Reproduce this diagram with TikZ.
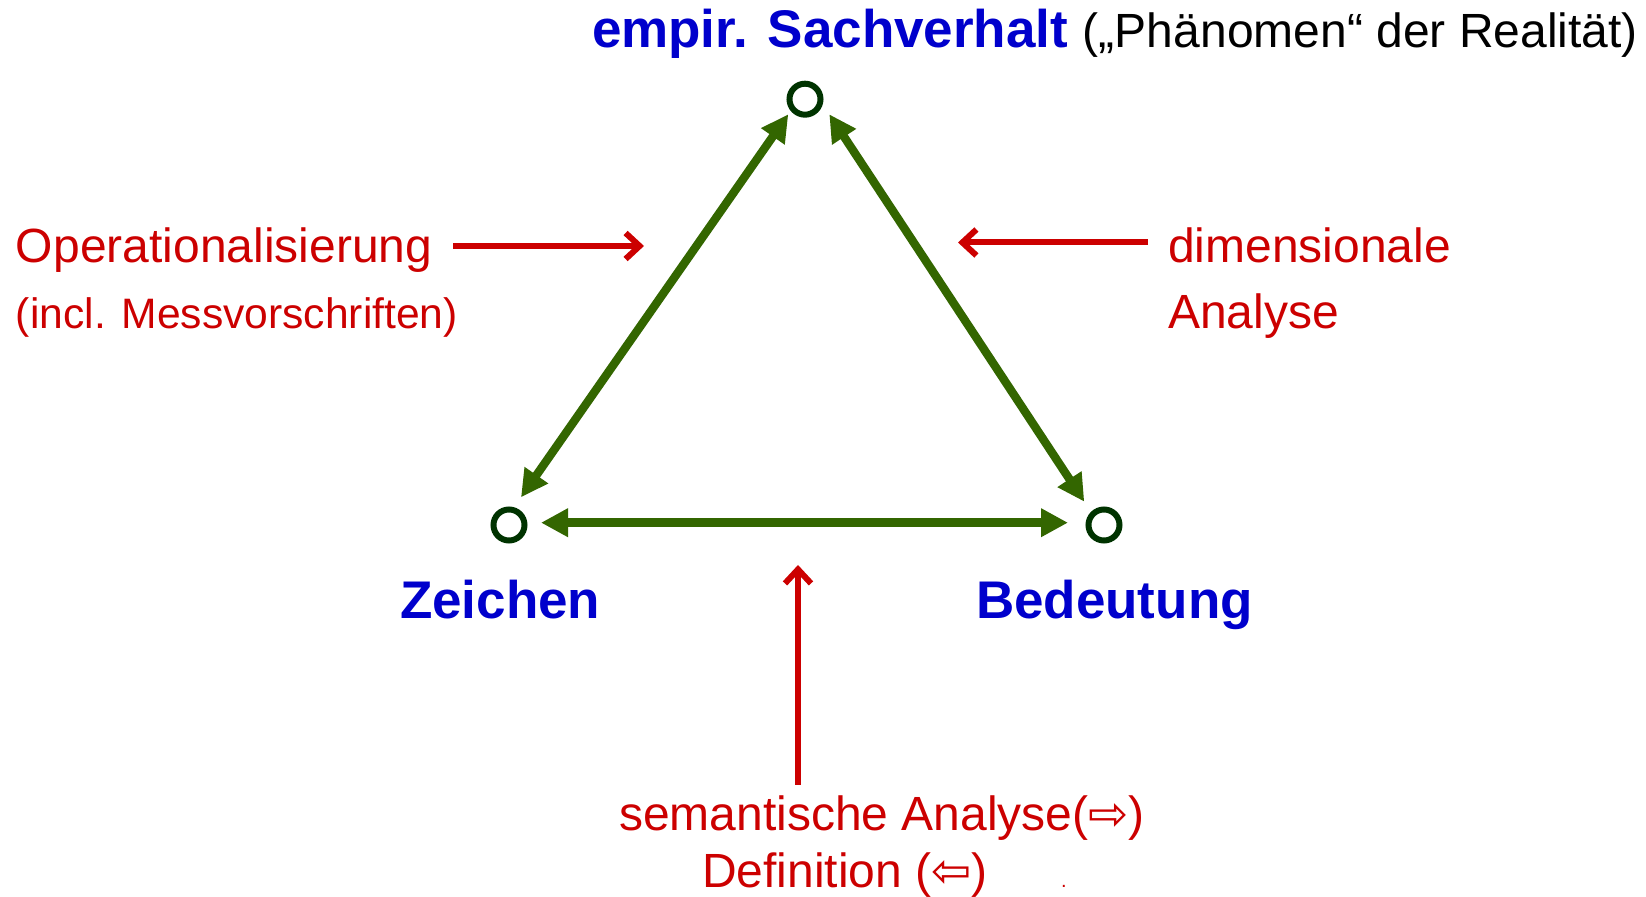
\documentclass[tikz,border=0pt]{standalone}
\usepackage{fontspec}
\setmainfont{Liberation Sans}
\newfontfamily\arrowfont{DejaVu Sans}
\usetikzlibrary{arrows.meta}
\definecolor{tblue}{HTML}{0000CC}
\definecolor{tred}{HTML}{CC0000}
\definecolor{tgreen}{HTML}{336600}
\definecolor{tdark}{HTML}{003300}
\begin{document}
\begin{tikzpicture}[x=0.5pt,y=-0.5pt,
  vertex/.style={circle,draw=tdark,line width=3pt,minimum size=15.5pt,inner sep=0pt},
  garrow/.style={draw=tgreen,line width=4.2pt,{Triangle[length=13.5pt,width=13.5pt]}-{Triangle[length=13.5pt,width=13.5pt]}},
  rarrow/.style={draw=tred,line width=3pt,-{Straight Barb[length=7pt,width=13pt]}},
  lbl/.style={anchor=base west,inner sep=0pt,outer sep=0pt},
  bigtext/.style={font=\fontsize{26.5pt}{32pt}\selectfont\bfseries,text=tblue},
  redtext/.style={font=\fontsize{24pt}{29pt}\selectfont,text=tred}]
\useasboundingbox (0,0) rectangle (1646,897);
% vertices
\node[vertex] (T) at (805,99.2) {};
\node[vertex] (L) at (509,525) {};
\node[vertex] (R) at (1104,525) {};
% green arrows
\draw[garrow] ([shift={(12,-27.7)}]L.center) -- ([shift={(-16.7,15.1)}]T.center);
\draw[garrow] ([shift={(-19.7,-23.3)}]R.center) -- ([shift={(24.3,15.1)}]T.center);
\draw[garrow] ([shift={(32,-2.3)}]L.center) -- ([shift={(-36,-2.3)}]R.center);
% labels
\node[lbl,bigtext] (top) at (592,48) {empir. Sachverhalt {\mdseries\fontsize{24pt}{29pt}\selectfont\color{black}(„Phänomen“ der Realität)}};
\node[lbl,bigtext] (zei) at (400,619) {Zeichen};
\node[lbl,bigtext] (bed) at (976,619) {Bedeutung};
\node[lbl,redtext] (op) at (16,262.5) {Operationalisierung};
\node[lbl,redtext,font=\fontsize{21.3pt}{26pt}\selectfont] (incl) at (16,328.5) {(incl. Messvorschriften)};
\node[lbl,redtext] (dim) at (1168,263) {dimensionale};
\node[lbl,redtext] (ana) at (1168,328.5) {Analyse};
\node[lbl,redtext] (sem) at (619,831) {semantische Analyse({\arrowfont ⇨})};
\node[lbl,redtext] (def) at (702,888) {Definition ({\arrowfont ⇦})};
\node[lbl,redtext,font=\fontsize{10pt}{12pt}\selectfont] (dot) at (1061,888) {.};
% red arrows
\coordinate (opA) at (453,246);
\coordinate (opB) at (644,246);
\coordinate (dimA) at (1148,242.5);
\coordinate (dimB) at (958,242.5);
\coordinate (semA) at (798,785);
\coordinate (semB) at (798,565);
\draw[rarrow] (opA) -- (opB);
\draw[rarrow] (dimA) -- (dimB);
\draw[rarrow] (semA) -- (semB);
\end{tikzpicture}
\end{document}
